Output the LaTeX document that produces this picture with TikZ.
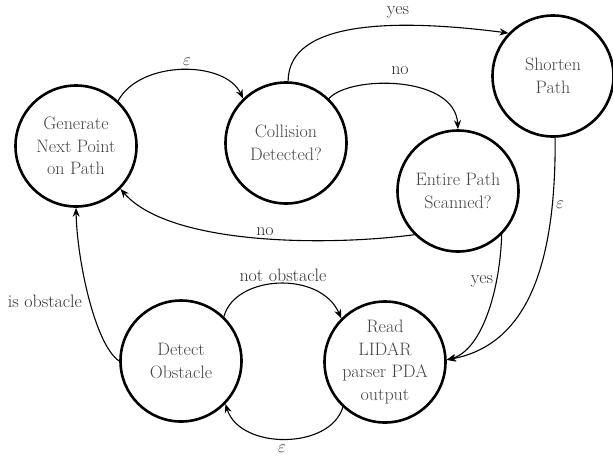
\documentclass[tikz,border=0pt]{standalone}
\usetikzlibrary{arrows.meta}
\definecolor{txtgray}{HTML}{444444}
\definecolor{lblgray}{HTML}{333333}
\begin{document}
\begin{tikzpicture}[x=1pt,y=-1pt,
  state/.style={circle,draw,line width=2.6pt,minimum size=121pt,inner sep=0pt,
    align=center,text=txtgray,font=\fontsize{18}{22.5}\selectfont},
  edge/.style={line width=1.1pt,-{Stealth[length=9pt,width=7pt]}},
  lbl/.style={text=lblgray,font=\fontsize{18}{20}\selectfont,inner sep=0pt}]
\useasboundingbox (0,0) rectangle (613,459);

\node[state] (G) at (76,146) {Generate\\Next Point\\on Path};
\node[state] (C) at (286,143) {Collision\\Detected?};
\node[state] (S) at (553,76) {Shorten\\Path};
\node[state] (E) at (458,191) {Entire Path\\Scanned?};
\node[state] (D) at (181,361) {Detect\\Obstacle};
\node[state] (R) at (385,362) {Read\\LIDAR\\parser PDA\\output};

% G -> C
\draw[edge] (G.47) .. controls (140,60) and (225,60) .. (C.134);
\node[lbl] (l1) at (187,62) {$\varepsilon$};
% C -> S
\draw[edge] (C.88) .. controls (288,19) and (400,19) .. (S.136);
\node[lbl] (l2) at (398,12) {yes};
% C -> E
\draw[edge] (C.46) .. controls (350,75) and (455,75) .. (E.90);
\node[lbl] (l3) at (400,71) {no};
% E -> G
\draw[edge] (E.225) .. controls (330,246) and (170,246) .. (G.316);
\node[lbl] (l4) at (265,232) {no};
% E -> R
\draw[edge] (E.315) .. controls (500,290) and (482,350) .. (R.2);
\node[lbl] (l5) at (482,281) {yes};
% S -> R
\draw[edge] (S.272) .. controls (556,270) and (525,345) .. (R.2);
\node[lbl] (l6) at (560,205) {$\varepsilon$};
% D -> R
\draw[edge] (D.46) .. controls (235,275) and (320,270) .. (R.135);
\node[lbl] (l7) at (283,275) {not obstacle};
% R -> D
\draw[edge] (R.227) .. controls (330,450) and (240,450) .. (D.316);
\node[lbl] (l8) at (282,449) {$\varepsilon$};
% D -> G
\draw[edge] (D.180) .. controls (95,345) and (77,260) .. (G.270);
\node[lbl] (l9) at (45,301) {is obstacle};
\end{tikzpicture}
\end{document}
